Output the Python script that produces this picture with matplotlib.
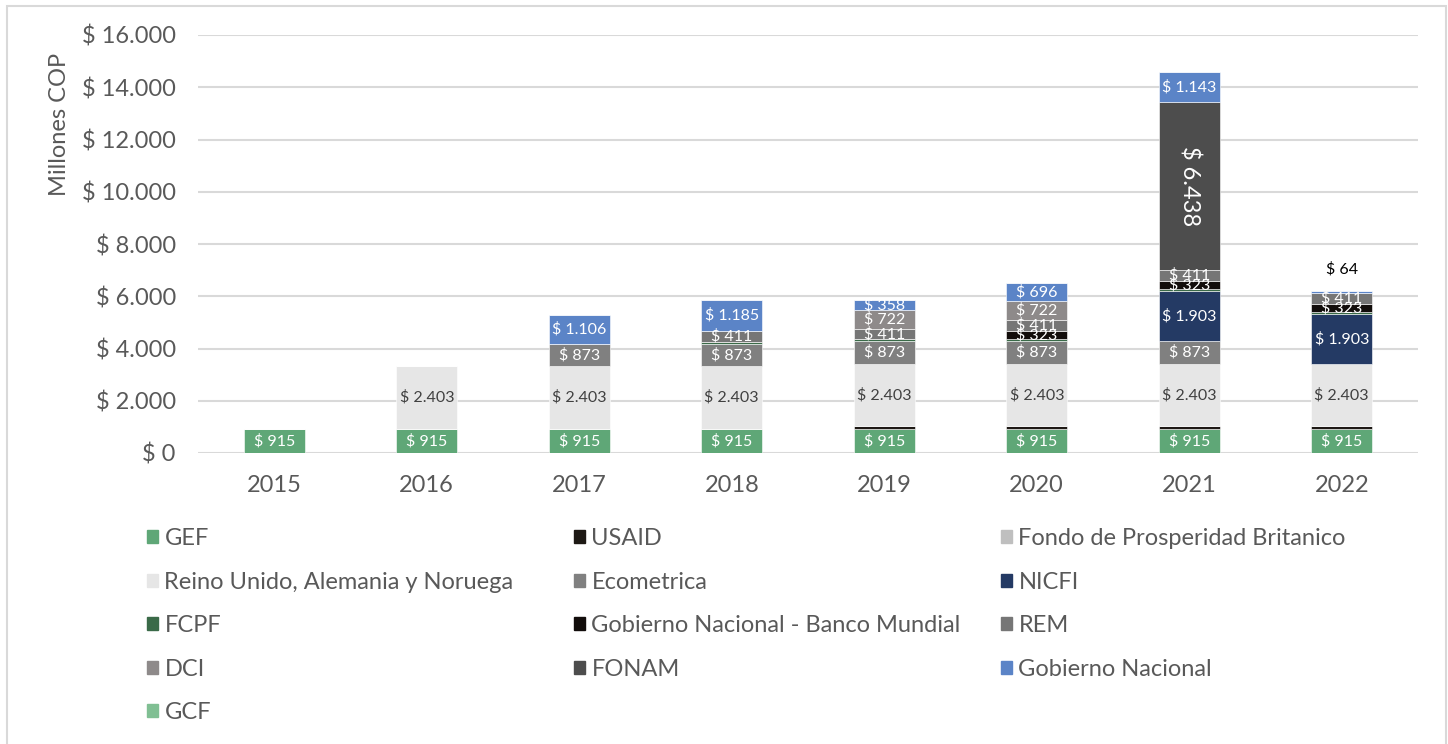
import matplotlib.pyplot as plt
import matplotlib.patches as mpatches
import numpy as np

plt.rcParams['font.family'] = ['Lato', 'DejaVu Sans']

years = ['2015', '2016', '2017', '2018', '2019', '2020', '2021', '2022']

series = ['GEF', 'USAID', 'Fondo de Prosperidad Britanico',
          'Reino Unido, Alemania y Noruega', 'Ecometrica', 'NICFI',
          'FCPF', 'Gobierno Nacional - Banco Mundial', 'REM', 'DCI',
          'FONAM', 'Gobierno Nacional', 'GCF']

gef = [915, 915, 915, 915, 915, 915, 915, 915]
usaid = [0, 0, 0, 0, 100, 100, 100, 100]
fondo = [0, 0, 0, 0, 0, 0, 0, 0]
reino = [0, 2403, 2403, 2403, 2403, 2403, 2403, 2403]
ecometrica = [0, 0, 873, 873, 873, 873, 873, 0]
nicfi = [0, 0, 0, 0, 0, 0, 1903, 1903]
fcpf = [0, 0, 0, 60, 60, 70, 70, 70]
gob_bm = [0, 0, 0, 0, 0, 323, 323, 323]
rem = [0, 0, 0, 411, 411, 411, 411, 411]
dci = [0, 0, 0, 0, 722, 722, 0, 0]
fonam = [0, 0, 0, 0, 0, 0, 6438, 0]
gob_nac = [0, 0, 1106, 1185, 358, 696, 1143, 64]
gcf = [0, 0, 0, 0, 0, 0, 0, 0]

values = [gef, usaid, fondo, reino, ecometrica, nicfi, fcpf, gob_bm,
          rem, dci, fonam, gob_nac, gcf]
colors = ['#5fa777', '#1e1915', '#bfbfbf', '#e6e6e6', '#808080', '#243a64',
          '#3a6a48', '#120d0b', '#767676', '#8e8a8a', '#4d4d4d', '#5b84c7',
          '#80bf93']
# which series get a data label and label colour
label_color = {'GEF': 'white', 'Reino Unido, Alemania y Noruega': '#404040',
               'Ecometrica': 'white', 'NICFI': 'white',
               'Gobierno Nacional - Banco Mundial': 'white', 'REM': 'white',
               'DCI': 'white', 'FONAM': 'white', 'Gobierno Nacional': 'white'}


def fmt(v):
    return '$ ' + f'{v:,.0f}'.replace(',', '.')


fig = plt.figure(figsize=(14.48, 7.44), dpi=100)
ax = fig.add_axes([198 / 1448, 1 - 453 / 744, 1220 / 1448, 418 / 744])

x = np.arange(len(years))
bottom = np.zeros(len(years))
handles = []
for name, vals, col in zip(series, values, colors):
    vals = np.array(vals, dtype=float)
    ax.bar(x, vals, 0.4, bottom=bottom, color=col, edgecolor='white',
           linewidth=0.4, zorder=3)
    handles.append(mpatches.Patch(color=col, label=name))
    if name in label_color:
        for i, v in enumerate(vals):
            if v <= 0:
                continue
            yc = bottom[i] + v / 2
            if name == 'FONAM':
                ax.text(x[i], yc, fmt(v), ha='center', va='center',
                        rotation=270, color='white', fontsize=17, zorder=4)
            elif name == 'Gobierno Nacional' and v < 100:
                ax.text(x[i], bottom[i] + v + 550, fmt(v), ha='center',
                        va='bottom', color='black', fontsize=11.5, zorder=4)
            else:
                ax.text(x[i], yc, fmt(v), ha='center', va='center',
                        color=label_color[name], fontsize=11.5, zorder=4)
    bottom += vals

ax.set_xlim(-0.5, len(years) - 0.5)
ax.set_ylim(0, 16000)
ax.set_yticks(np.arange(0, 16001, 2000))
ax.set_yticklabels([fmt(v) for v in np.arange(0, 16001, 2000)])
ax.set_xticks(x)
ax.set_xticklabels(years)
ax.tick_params(axis='both', length=0, labelsize=17, colors='#595959')
ax.tick_params(axis='y', pad=16)
ax.tick_params(axis='x', pad=16)
ax.yaxis.grid(True, color='#d9d9d9', linewidth=1.5, zorder=0)
ax.set_axisbelow(True)
for s in ax.spines.values():
    s.set_visible(False)
ax.set_ylabel('Millones COP', fontsize=17, color='#595959')
ax.yaxis.set_label_coords(-0.105, 0.785)

# legend: three fixed columns, filled row by row
col_x = [147 / 1448, 574 / 1448, 1001 / 1448]
for c in range(3):
    hs = handles[c::3]
    fig.legend(handles=hs, loc='upper left',
               bbox_to_anchor=(col_x[c], 1 - 528 / 744), frameon=False,
               fontsize=17, labelcolor='#595959', handlelength=0.47,
               handleheight=0.47, handletextpad=0.27, labelspacing=0.955,
               borderpad=0, borderaxespad=0)

# chart area border
fig.patches.append(mpatches.Rectangle((7 / 1448, -0.01), 1439 / 1448,
                                      1 - 6 / 744 + 0.01,
                                      transform=fig.transFigure, fill=False,
                                      edgecolor='#d9d9d9', linewidth=1.5))

fig.savefig('out.png', dpi=100)
